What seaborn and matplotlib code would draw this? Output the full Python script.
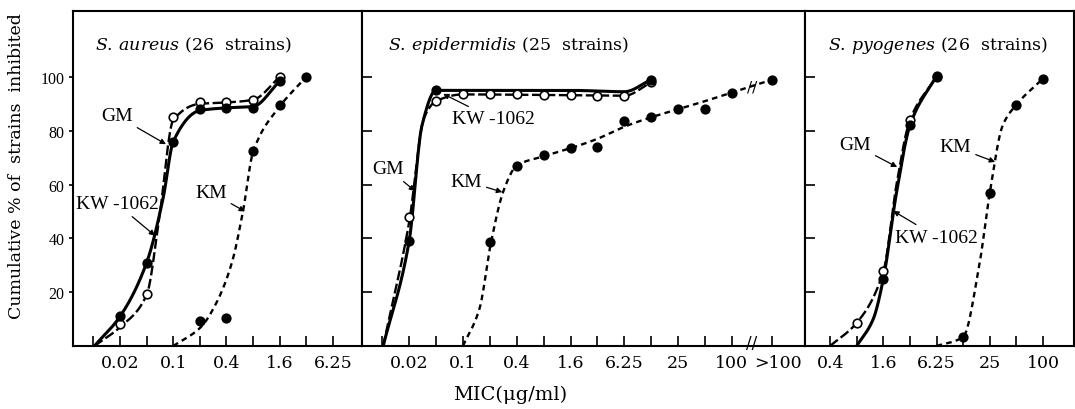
import numpy as np
import matplotlib
matplotlib.use("Agg")
import matplotlib.pyplot as plt
import seaborn as sns

# ---------------- data ----------------
# x tick dilution series (µg/ml) = 100 / 2**k
tick_k = list(range(13, -1, -1))
GT100 = 100 * 2 ** 1.5          # axis position used for the ">100" category

# S. aureus (26 strains)
au_kw_x = [0.0244, 0.0488, 0.0977, 0.195, 0.39, 0.78, 1.5625]
au_kw_y = [11, 31, 76, 88, 88.5, 88.5, 98.5]
au_gm_x = [0.0244, 0.0488, 0.0977, 0.195, 0.39, 0.78, 1.5625]
au_gm_y = [8, 19.5, 85, 90.5, 90.5, 91.5, 100]
au_km_x = [0.195, 0.39, 0.78, 1.5625, 3.125]
au_km_y = [9.3, 10.5, 72.5, 89.5, 100]
# hand-drawn fitted curves (knots)
au_kw_cx = [0.0125, 0.0244, 0.0488, 0.075, 0.0977, 0.195, 0.39, 0.78, 1.5625]
au_kw_cy = [0, 11, 31, 55, 76, 87.5, 88.5, 89, 98.5]
au_gm_cx = [0.0125, 0.0244, 0.0488, 0.068, 0.0977, 0.195, 0.39, 0.78, 1.5625]
au_gm_cy = [0, 7, 19, 48, 84, 90, 90.5, 91.5, 100]
au_km_cx = [0.0977, 0.2, 0.3, 0.45, 0.6, 0.78, 1.5625, 3.125]
au_km_cy = [0, 7, 16, 31, 50, 72, 89, 100]

# S. epidermidis (25 strains)
ep_kw_x = [0.0244, 0.0488, 12.5]
ep_kw_y = [39, 95, 99]
ep_gm_x = [0.0244, 0.0488, 0.0977, 0.195, 0.39, 0.78, 1.5625, 3.125, 6.25, 12.5]
ep_gm_y = [47.8, 91, 93.5, 93.5, 93.5, 93.3, 93.2, 93, 93, 98]
ep_km_x = [0.195, 0.39, 0.78, 1.5625, 3.125, 6.25, 12.5, 25, 50, 100, GT100]
ep_km_y = [38.8, 67, 71, 73.6, 74, 83.7, 85.2, 88, 88.2, 94.2, 99]
ep_kw_cx = [0.0125, 0.0244, 0.034, 0.0488, 0.2, 1.5625, 6.25, 12.5]
ep_kw_cy = [0, 39, 82, 95, 95, 95, 94.5, 99]
ep_gm_cx = [0.0125, 0.0244, 0.036, 0.0488, 0.0977, 0.78, 6.25, 12.5]
ep_gm_cy = [0, 46, 85, 91, 93.5, 93.3, 93, 98]
ep_km_cx = [0.0977, 0.15, 0.2, 0.28, 0.39, 0.78, 1.5625, 3.125, 6.25, 12.5, 25, 50, 100, GT100]
ep_km_cy = [0, 14, 38, 58, 67, 70.5, 73.5, 77, 81.5, 85, 88, 91, 94.2, 99]

# S. pyogenes (26 strains)
py_kw_x = [1.5625, 3.125, 6.25]
py_kw_y = [25, 82, 100.5]
py_gm_x = [0.78, 1.5625, 3.125, 6.25]
py_gm_y = [8.6, 27.7, 84, 100]
py_km_x = [12.5, 25, 50, 100]
py_km_y = [3.4, 56.8, 89.7, 99.4]
py_kw_cx = [0.78, 1.2, 1.5625, 2.2, 3.125, 6.25]
py_kw_cy = [0, 10, 25, 57, 82, 100.5]
py_gm_cx = [0.39, 0.78, 1.5625, 2.2, 3.125, 6.25]
py_gm_cy = [0, 8.6, 27.7, 60, 84, 100]
py_km_cx = [6.25, 12.5, 19, 25, 35, 50, 100]
py_km_cy = [0, 3.4, 30, 57, 82, 89.7, 99.4]

panel_titles = ["S.\\,aureus", "S.\\,epidermidis", "S.\\,pyogenes"]
panel_counts = ["(26  strains)", "(25  strains)", "(26  strains)"]
label_map = {0.0244: "0.02", 0.0977: "0.1", 0.39: "0.4", 1.5625: "1.6",
             6.25: "6.25", 25: "25", 100: "100"}
GT100_LABEL = ">100"

# ---------------- style ----------------
sns.set_theme(style="white")
SERIF = ["Liberation Serif", "DejaVu Serif"]
WIDE = ["DejaVu Serif", "Liberation Serif"]
plt.rcParams["font.family"] = SERIF
plt.rcParams["mathtext.fontset"] = "custom"
plt.rcParams["mathtext.it"] = "DejaVu Serif:italic"
plt.rcParams["mathtext.rm"] = "DejaVu Serif"
for key in ["text.color", "axes.labelcolor", "xtick.color", "ytick.color", "axes.edgecolor"]:
    plt.rcParams[key] = "black"

W, H = 1075, 410
fig = plt.figure(figsize=(W / 100, H / 100), dpi=100)
top, bot = 12, 347
edges = [(73, 362), (362, 805), (805, 1074)]
xlims = [(0.00716, 13.35), (0.00724, 659), (0.203, 224)]
axes = []
for (l, r), xl in zip(edges, xlims):
    ax = fig.add_axes([l / W, 1 - bot / H, (r - l) / W, (bot - top) / H])
    ax.set_xscale("log", base=2)
    ax.set_xlim(*xl)
    ax.set_ylim(0, 124.5)
    for s in ax.spines.values():
        s.set_color("black")
        s.set_linewidth(1.5)
    axes.append(ax)


def pchip(x, y, xn):
    x = np.asarray(x, float); y = np.asarray(y, float)
    h = np.diff(x); d = np.diff(y) / h
    m = np.zeros_like(y)
    for k in range(1, len(x) - 1):
        if d[k - 1] * d[k] > 0:
            w1 = 2 * h[k] + h[k - 1]; w2 = h[k] + 2 * h[k - 1]
            m[k] = (w1 + w2) / (w1 / d[k - 1] + w2 / d[k])
    m[0] = d[0]; m[-1] = d[-1]
    idx = np.clip(np.searchsorted(x, xn) - 1, 0, len(x) - 2)
    t = (xn - x[idx]) / h[idx]
    h00 = 2 * t**3 - 3 * t**2 + 1; h10 = t**3 - 2 * t**2 + t
    h01 = -2 * t**3 + 3 * t**2; h11 = t**3 - t**2
    return h00 * y[idx] + h10 * h[idx] * m[idx] + h01 * y[idx + 1] + h11 * h[idx] * m[idx + 1]


def curve(ax, cx, cy, ls, lw):
    u = np.log2(cx)
    un = np.linspace(u[0], u[-1], 300)
    sns.lineplot(x=2 ** un, y=pchip(u, cy, un), ax=ax, color="black", lw=lw,
                 linestyle=ls, estimator=None, sort=False, zorder=2)


def pts(ax, x, y, filled):
    sns.scatterplot(x=x, y=y, ax=ax, s=38, color="black" if filled else "white",
                    edgecolor="black", linewidth=1.2, zorder=4)


SOLID = "-"
LONG = (0, (4.2, 1.5))
SHORT = (0, (2.4, 1.8))

sets = [
    (au_kw_cx, au_kw_cy, au_gm_cx, au_gm_cy, au_km_cx, au_km_cy,
     au_kw_x, au_kw_y, au_gm_x, au_gm_y, au_km_x, au_km_y),
    (ep_kw_cx, ep_kw_cy, ep_gm_cx, ep_gm_cy, ep_km_cx, ep_km_cy,
     ep_kw_x, ep_kw_y, ep_gm_x, ep_gm_y, ep_km_x, ep_km_y),
    (py_kw_cx, py_kw_cy, py_gm_cx, py_gm_cy, py_km_cx, py_km_cy,
     py_kw_x, py_kw_y, py_gm_x, py_gm_y, py_km_x, py_km_y),
]
for ax, S in zip(axes, sets):
    kcx, kcy, gcx, gcy, mcx, mcy, kx, ky, gx, gy, mx, my = S
    curve(ax, kcx, kcy, SOLID, 2.2)
    curve(ax, gcx, gcy, LONG, 1.7)
    curve(ax, mcx, mcy, SHORT, 1.7)
    pts(ax, gx, gy, False)
    pts(ax, kx, ky, True)
    pts(ax, mx, my, True)

# ticks
ranges = [(13, 4), (13, 0), (8, 0)]
for i, ax in enumerate(axes):
    ks = [k for k in tick_k if ranges[i][1] <= k <= ranges[i][0]]
    tv = [100 / 2 ** k for k in ks]
    labs = []
    for v in tv:
        lab = ""
        for key, txt in label_map.items():
            if abs(v - key) / key < 0.02:
                lab = txt
        labs.append(lab)
    if i == 1:
        tv.append(GT100)
        labs.append("")
    ax.set_xticks(tv)
    ax.set_xticklabels(labs, family=WIDE)
    ax.xaxis.set_minor_locator(matplotlib.ticker.NullLocator())
    ax.tick_params(axis="x", direction="in", length=7, width=1.2, labelsize=12.5,
                   pad=6, colors="black", bottom=True)
    ax.set_yticks([20, 40, 60, 80, 100])
    if i == 0:
        ax.tick_params(axis="y", direction="out", length=3, width=1.2, labelsize=11.5,
                       pad=3, colors="black", left=True)
    else:
        ax.tick_params(axis="y", direction="in", length=7, width=1.2, labelleft=False,
                       left=True)
    ax.set_xlabel(""); ax.set_ylabel("")
    ax.text([0.076, 0.059, 0.085][i], 0.9, rf"$\mathit{{{panel_titles[i]}}}$ {panel_counts[i]}",
            transform=ax.transAxes, fontsize=12.5, ha="left", va="center", family=WIDE)

# ">100" category label, nudged right of its tick (past the axis break)
axes[1].annotate(GT100_LABEL, xy=(GT100, 0), xycoords=("data", "axes fraction"),
                 xytext=(4, -6), textcoords="offset points", ha="center", va="top",
                 fontsize=12.5, family=WIDE)

# break marks on the epidermidis panel
axes[1].text(168, 1.2, "//", fontsize=12, ha="center", va="center", zorder=5, family=WIDE)
axes[1].text(168, 96.6, "//", fontsize=11, ha="center", va="center", zorder=5, family=WIDE)

# annotations
arrow = dict(arrowstyle="-|>", color="black", lw=0.9, mutation_scale=8, shrinkA=1, shrinkB=0)
notes = [
    (0, "GM", (0.0807, 75), (0.0225, 85.5)),
    (0, "KW -1062", (0.0607, 41), (0.0225, 52.8)),
    (0, "KM", (0.632, 50), (0.26, 57.2)),
    (1, "KW -1062", (0.0587, 93.7), (0.213, 84.4)),
    (1, "GM", (0.0284, 57.6), (0.0142, 65.8)),
    (1, "KM", (0.269, 57.2), (0.106, 61.3)),
    (2, "GM", (2.24, 66.5), (0.75, 74.7)),
    (2, "KM", (28.7, 68.4), (10.2, 74)),
    (2, "KW -1062", (2.02, 50.2), (6.3, 40.5)),
]
for i, txt, xy, xyt in notes:
    axes[i].annotate(txt, xy=xy, xytext=xyt, fontsize=14, ha="center", va="center",
                     arrowprops=arrow, zorder=6)

fig.text(17 / W, 1 - 166 / H, "Cumulative % of  strains  inhibited", rotation=90,
         fontsize=12.5, ha="center", va="center", family=WIDE)
fig.text(510 / W, 1 - 395 / H, "MIC(μg/ml)", fontsize=14, ha="center", va="center", family=WIDE)

fig.savefig("out.png", dpi=100)
